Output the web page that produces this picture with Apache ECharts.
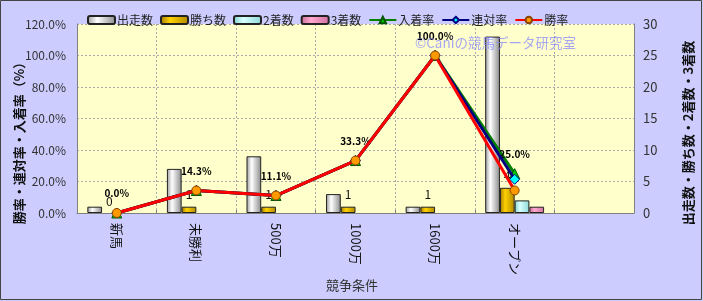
<!DOCTYPE html>
<html><head><meta charset="utf-8">
<script src="https://cdn.jsdelivr.net/npm/echarts@6/dist/echarts.min.js"></script>
<style>html,body{margin:0;padding:0;background:#CCCCFF}#c{width:703px;height:301px}</style>
</head><body><div id="c"></div>
<script>
var categories = ['新馬','未勝利','500万','1000万','1600万','オープン',''];
var starts = [1, 7, 9, 3, 1, 28, null];
var wins = [0, 1, 1, 1, 1, 4, null];
var seconds = [0, 0, 0, 0, 0, 2, null];
var thirds = [0, 0, 0, 0, 0, 1, null];
var placeRate = [0, 14.3, 11.1, 33.3, 100, 25.0, null];
var rentaiRate = [0, 14.3, 11.1, 33.3, 100, 21.4, null];
var winRate = [0, 14.3, 11.1, 33.3, 100, 14.3, null];
var leftTicks = [0, 20, 40, 60, 80, 100, 120];
var rightTicks = [0, 5, 10, 15, 20, 25, 30];

var font = '"Noto Sans CJK JP", sans-serif';
function grad(c1, c2, c3) {
  return {type:'linear', x:0, y:0, x2:1, y2:0, colorStops:[
    {offset:0, color:c1},{offset:0.35, color:c2},{offset:1, color:c3}]};
}
function barData(arr) {
  return arr.map(function(v){
    return {value:v, itemStyle:{borderWidth: (v === 0 || v == null) ? 0 : 1}};
  });
}
var chart = echarts.init(document.getElementById('c'), null, {renderer:'canvas'});
chart.setOption({
  backgroundColor:'#CCCCFF',
  animation:false,
  textStyle:{fontFamily:font},
  grid:{left:77, right:69, top:24, bottom:88, show:true, backgroundColor:'#FFFFCC', borderWidth:0},
  legend:{
    left:82, top:9, itemWidth:27, itemHeight:8, itemGap:7,
    textStyle:{fontFamily:font, fontSize:12, color:'#222', padding:[0,0,0,-3]},
    data:['出走数','勝ち数','2着数','3着数','入着率','連対率','勝率']
  },
  xAxis:{
    type:'category', data:categories, boundaryGap:true,
    axisLine:{lineStyle:{color:'#808080', width:1}},
    axisTick:{show:true, inside:true, length:3, lineStyle:{color:'#808080'}},
    splitLine:{show:true, lineStyle:{color:'#AAAAAA', type:[2,2]}},
    axisLabel:{rotate:-90, margin:10, fontSize:13, color:'#111', fontFamily:font}
  },
  yAxis:[
    {type:'value', min:0, max:120, interval:20, position:'left',
     axisLine:{show:true, lineStyle:{color:'#808080'}},
     axisTick:{show:false},
     splitLine:{show:true, lineStyle:{color:'#AAAAAA', type:[2,2]}},
     axisLabel:{formatter:function(v){return v.toFixed(1)+'%';}, fontSize:12, color:'#333', margin:11, fontFamily:font}},
    {type:'value', min:0, max:30, interval:5, position:'right',
     axisLine:{show:true, lineStyle:{color:'#808080'}},
     axisTick:{show:false}, splitLine:{show:false},
     axisLabel:{fontSize:13, color:'#333', margin:9, fontFamily:font}}
  ],
  graphic:[
    {type:'text', left:415, top:36, z:50, style:{text:'©Caniの競馬データ研究室', fill:'rgba(130,130,255,0.7)', font:'13.5px '+font}},
    {type:'text', x:19, y:140, rotation:Math.PI/2, style:{text:'勝率・連対率・入着率（%）', fill:'#111', font:'bold 13px '+font, align:'center', verticalAlign:'middle'}},
    {type:'text', x:688, y:133, rotation:Math.PI/2, style:{text:'出走数・勝ち数・2着数・3着数', fill:'#111', font:'bold 13px '+font, align:'center', verticalAlign:'middle'}},
    {type:'text', x:352, y:285, style:{text:'競争条件', fill:'#333', font:'13px '+font, align:'center', verticalAlign:'middle'}},
    {type:'rect', shape:{x:0.5, y:0.5, width:701, height:299}, style:{fill:'none', stroke:'#444', lineWidth:1}, z:100}
  ],
  series:[
    {name:'出走数', type:'bar', yAxisIndex:1, data:barData(starts), barGap:'0%', barCategoryGap:'26%',
     itemStyle:{color:grad('#9a9a9a','#ffffff','#8a8a8a'), borderColor:'#222', borderWidth:1}},
    {name:'勝ち数', type:'bar', yAxisIndex:1, data:barData(wins),
     itemStyle:{color:grad('#a07800','#ffd200','#b08800'), borderColor:'#222', borderWidth:1},
     label:{show:true, position:'top', distance:6, fontSize:12, color:'#111', fontFamily:font}},
    {name:'2着数', type:'bar', yAxisIndex:1, data:barData(seconds),
     itemStyle:{color:grad('#7fcfcf','#d8ffff','#8fd8d8'), borderColor:'#222', borderWidth:1}},
    {name:'3着数', type:'bar', yAxisIndex:1, data:barData(thirds),
     itemStyle:{color:grad('#c86a98','#ffa8d0','#d070a0'), borderColor:'#222', borderWidth:1}},
    {name:'入着率', type:'line', yAxisIndex:0, data:placeRate, z:3,
     lineStyle:{color:'#008000', width:3}, symbol:'triangle', symbolSize:10,
     itemStyle:{color:'#00CC00', borderColor:'#005500', borderWidth:1},
     label:{show:true, position:'top', distance:9, fontSize:10, fontWeight:'bold', color:'#000',
       formatter:function(p){return p.value==null?'':p.value.toFixed(1)+'%';}}},
    {name:'連対率', type:'line', yAxisIndex:0, data:rentaiRate, z:4,
     lineStyle:{color:'#000080', width:3}, symbol:'diamond', symbolSize:10,
     itemStyle:{color:'#00FFFF', borderColor:'#000080', borderWidth:1}},
    {name:'勝率', type:'line', yAxisIndex:0, data:winRate, z:5,
     lineStyle:{color:'#FF0000', width:3}, symbol:'circle', symbolSize:9,
     itemStyle:{color:'#FF9900', borderColor:'#884400', borderWidth:1}}
  ]
});
</script></body></html>
